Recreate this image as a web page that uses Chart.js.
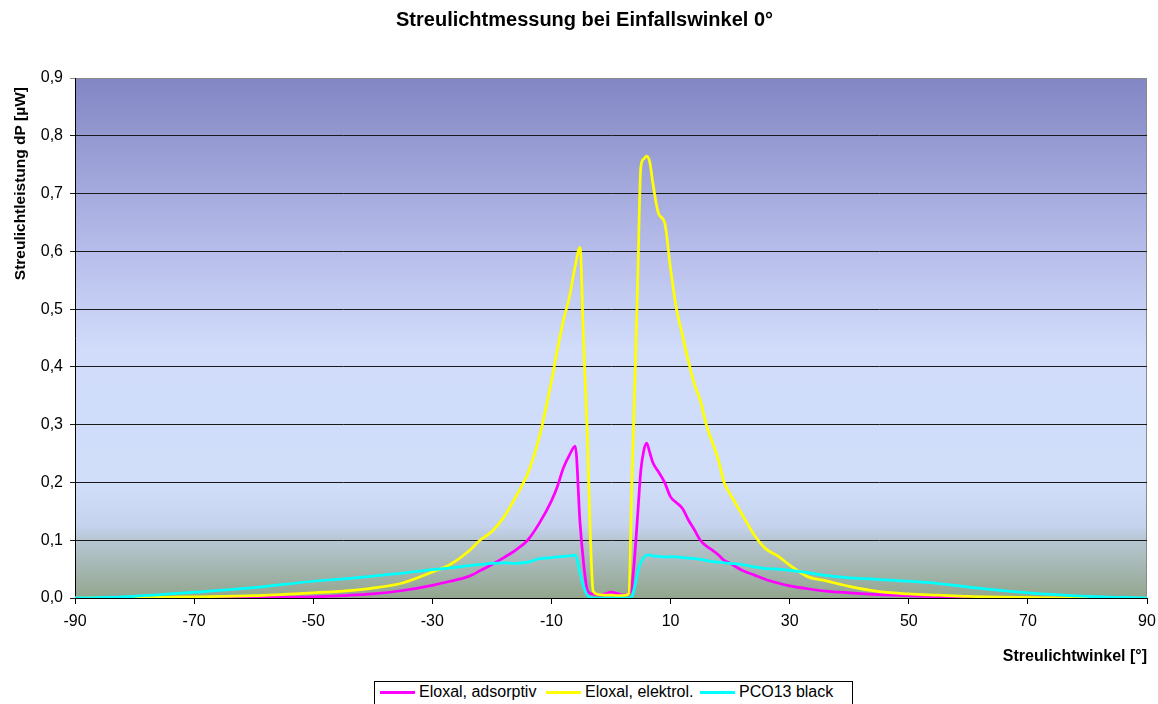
<!DOCTYPE html>
<html>
<head>
<meta charset="utf-8">
<script src="https://cdn.jsdelivr.net/npm/chart.js@4"></script>
<style>
  body { margin: 0; background: #fff; }
  #wrap { position: relative; width: 1158px; height: 704px; overflow: hidden; }
  #legend {
    position: absolute; left: 374px; top: 681px; width: 477px; height: 30px;
    border: 1px solid #000; background: #fff;
    font: 16px 'Liberation Sans', Arial, sans-serif; color: #000;
  }
  .item { position: absolute; top: 1px; white-space: nowrap; }
  .swatch { display: inline-block; width: 35px; height: 3px; vertical-align: middle; margin-right: 4px; }
</style>
</head>
<body>
<div id="wrap">
  <canvas id="chart" width="1158" height="704"></canvas>
  <div id="legend"></div>
</div>
<script>
const chartTitle = 'Streulichtmessung bei Einfallswinkel 0°'
const xTitle = 'Streulichtwinkel [°]'
const yTitle = 'Streulichtleistung dP [µW]'
const xTicks = [-90, -70, -50, -30, -10, 10, 30, 50, 70, 90]

const seriesNames = ['Eloxal, adsorptiv', 'Eloxal, elektrol.', 'PCO13 black']
const seriesColors = ['#ff00ff', '#ffff00', '#00ffff']

const angles = [-90, -80, -70, -60, -50, -45, -40, -35, -30, -27, -24, -22, -20, -18, -16, -14, -12, -10, -9, -8, -7, -6, -5.2, -4.6, -4, -3.5, -3, -2, -1, 0, 1, 2, 3, 3.5, 4, 4.5, 5, 5.5, 6, 6.5, 7, 8, 9, 10, 11, 12, 13, 14, 15, 16, 17, 18, 19, 20, 22, 24, 26, 28, 30, 33, 36, 40, 45, 50, 55, 60, 70, 80, 90]

const adsorptiv = [0, 0, 0.0005, 0.001, 0.002, 0.004, 0.007, 0.013, 0.022, 0.029, 0.037, 0.047, 0.058, 0.07, 0.083, 0.1, 0.13, 0.168, 0.193, 0.225, 0.247, 0.263, 0.13, 0.06, 0.014, 0.008, 0.007, 0.005, 0.007, 0.01, 0.008, 0.005, 0.008, 0.02, 0.075, 0.147, 0.22, 0.255, 0.268, 0.252, 0.235, 0.218, 0.2, 0.175, 0.165, 0.155, 0.135, 0.118, 0.1, 0.09, 0.083, 0.075, 0.065, 0.06, 0.048, 0.04, 0.032, 0.026, 0.021, 0.016, 0.012, 0.009, 0.006, 0.004, 0.002, 0.001, 0, 0, 0]

const elektrol = [0, 0.0005, 0.002, 0.004, 0.009, 0.012, 0.017, 0.026, 0.045, 0.058, 0.08, 0.1, 0.115, 0.14, 0.175, 0.215, 0.28, 0.375, 0.43, 0.48, 0.52, 0.575, 0.607, 0.44, 0.29, 0.118, 0.012, 0.006, 0.005, 0.005, 0.004, 0.004, 0.008, 0.2, 0.37, 0.556, 0.745, 0.76, 0.765, 0.755, 0.72, 0.665, 0.65, 0.57, 0.5, 0.455, 0.41, 0.37, 0.342, 0.3, 0.27, 0.24, 0.2, 0.18, 0.145, 0.11, 0.085, 0.073, 0.057, 0.037, 0.03, 0.02, 0.011, 0.007, 0.005, 0.003, 0.001, 0, 0]

const pco13 = [0, 0.003, 0.01, 0.018, 0.029, 0.033, 0.038, 0.043, 0.049, 0.052, 0.056, 0.058, 0.06, 0.061, 0.06, 0.062, 0.068, 0.07, 0.071, 0.072, 0.073, 0.074, 0.043, 0.02, 0.005, 0.001, 0, 0, 0, 0, 0, 0, 0, 0.002, 0.02, 0.045, 0.062, 0.07, 0.074, 0.074, 0.073, 0.072, 0.071, 0.071, 0.071, 0.07, 0.069, 0.068, 0.067, 0.065, 0.063, 0.062, 0.061, 0.06, 0.058, 0.054, 0.051, 0.05, 0.048, 0.044, 0.039, 0.035, 0.032, 0.029, 0.025, 0.019, 0.009, 0.003, 0]

const allSeries = [adsorptiv, elektrol, pco13]

const fontFamily = "'Liberation Sans', Arial, sans-serif"
Chart.defaults.font.family = fontFamily
Chart.defaults.font.size = 16
Chart.defaults.color = '#000'

// plot area background like the excel fill
const plotBackground = {
  id: 'plotBackground',
  beforeDraw(chart) {
    const {ctx, chartArea: a} = chart
    const g = ctx.createLinearGradient(0, a.top, 0, a.bottom)
    g.addColorStop(0, 'rgb(130,134,196)')
    g.addColorStop(0.35, 'rgb(185,192,236)')
    g.addColorStop(0.52, 'rgb(208,220,250)')
    g.addColorStop(0.78, 'rgb(208,222,250)')
    g.addColorStop(0.86, 'rgb(198,211,238)')
    g.addColorStop(0.89, 'rgb(182,198,210)')
    g.addColorStop(1, 'rgb(146,166,142)')
    ctx.save()
    ctx.fillStyle = g
    ctx.fillRect(a.left, a.top, a.right - a.left, a.bottom - a.top)
    ctx.strokeStyle = '#8a8a8a'
    ctx.lineWidth = 1
    ctx.beginPath()
    ctx.moveTo(a.right - 0.5, a.top)
    ctx.lineTo(a.right - 0.5, a.bottom)
    ctx.stroke()
    ctx.restore()
  },
  // y title sits near the top of the axis, a bit below the plot top
  afterDraw(chart) {
    const {ctx, chartArea: a} = chart
    ctx.save()
    ctx.font = `bold 15.5px ${fontFamily}`
    ctx.fillStyle = '#000'
    ctx.textAlign = 'right'
    ctx.textBaseline = 'middle'
    ctx.translate(20.5, a.top + 9)
    ctx.rotate(-Math.PI / 2)
    ctx.fillText(yTitle, 0, 0)
    ctx.restore()
  }
}

function makeDataset(values, i) {
  return {
    label: seriesNames[i],
    data: angles.map((a, j) => ({x: a, y: values[j]})),
    borderColor: seriesColors[i],
    borderWidth: 2.75,
    pointRadius: 0,
    cubicInterpolationMode: 'monotone',
    order: allSeries.length - i,
  }
}

new Chart(document.getElementById('chart'), {
  type: 'line',
  data: { datasets: allSeries.map(makeDataset) },
  plugins: [plotBackground],
  options: {
    responsive: false,
    animation: false,
    events: [],
    layout: { padding: { left: 22, right: 11, top: 0, bottom: 0 } },
    plugins: {
      legend: { display: false },
      tooltip: { enabled: false },
      title: {
        display: true,
        text: chartTitle,
        font: { size: 20, weight: 'bold' },
        padding: { top: 8, bottom: 46 },
      },
    },
    scales: {
      x: {
        type: 'linear',
        min: -90,
        max: 90,
        afterBuildTicks: (s) => { s.ticks = xTicks.map(v => ({value: v})) },
        afterFit: (s) => {
          s.height = 106
          s.paddingRight = 0
          s.paddingLeft = 0
        },
        ticks: { padding: 8, maxRotation: 0, autoSkip: false },
        grid: { drawOnChartArea: false, tickLength: 6, color: '#000' },
        border: { color: '#000' },
        title: {
          display: true,
          text: xTitle,
          align: 'end',
          font: { size: 16, weight: 'bold' },
          padding: { top: 0, bottom: 38 },
        },
      },
      y: {
        min: 0,
        max: 0.9,
        afterFit: (s) => { s.width = 53 },
        ticks: {
          stepSize: 0.1,
          padding: 7,
          callback: (v) => v.toFixed(1).replace('.', ','),
        },
        grid: {
          tickLength: 5,
          color: (c) => c.tick && Math.abs(c.tick.value - 0.9) < 1e-6 ? '#8a8a8a' : '#1a1a1a',
        },
        border: { color: '#000' },
        title: { display: false },
      },
    },
  },
})

const legendLeft = [5, 171, 325]
const legend = document.getElementById('legend')
seriesNames.forEach((name, i) => {
  const item = document.createElement('span')
  item.className = 'item'
  item.style.left = legendLeft[i] + 'px'
  item.innerHTML = `<span class="swatch" style="background:${seriesColors[i]}"></span>${name}`
  legend.appendChild(item)
})
</script>
</body>
</html>
